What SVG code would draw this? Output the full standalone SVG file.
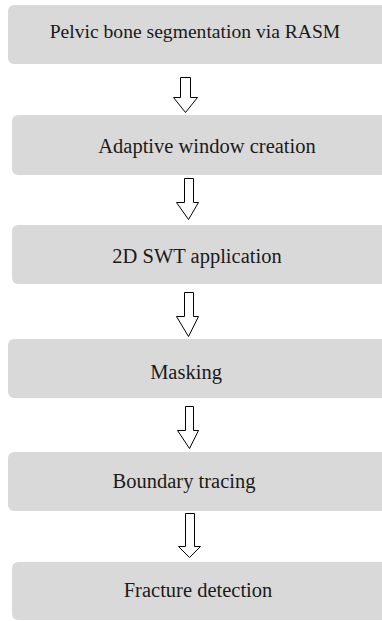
<svg xmlns="http://www.w3.org/2000/svg" width="382" height="621" viewBox="0 0 382 621">
<style>
.box{fill:#d9d9d9;}
.lbl{font-family:"Liberation Serif","Times New Roman",serif;font-size:20.5px;fill:#1a1a1a;text-anchor:middle;}
.arr{fill:#fff;stroke:#000;stroke-width:1;stroke-linejoin:miter;}
</style>
<rect width="382" height="621" fill="#fff"/>
<g id="n1"><rect class="box" x="8" y="5" width="400" height="59" rx="6"/><text class="lbl" x="195" y="38" style="font-size:19.6px">Pelvic bone segmentation via RASM</text></g>
<g id="n2"><rect class="box" x="12" y="115" width="400" height="60" rx="6"/><text class="lbl" x="207" y="153">Adaptive window creation</text></g>
<g id="n3"><rect class="box" x="12" y="225" width="400" height="59" rx="6"/><text class="lbl" x="197" y="263">2D SWT application</text></g>
<g id="n4"><rect class="box" x="8" y="339" width="400" height="59" rx="6"/><text class="lbl" x="186" y="379">Masking</text></g>
<g id="n5"><rect class="box" x="8" y="452" width="400" height="59" rx="6"/><text class="lbl" x="184" y="488">Boundary tracing</text></g>
<g id="n6"><rect class="box" x="12" y="562" width="400" height="58" rx="6"/><text class="lbl" x="198" y="597">Fracture detection</text></g>
<g id="connectors">
<path class="arr" d="M180.5,77.5 H190.5 V97.5 H197.5 L185.5,112.5 L173.5,97.5 H180.5 Z"/>
<path class="arr" d="M184.5,178.5 H193.5 V202.5 H198.5 L188.5,219.5 L176.5,202.5 H184.5 Z"/>
<path class="arr" d="M184.5,292.5 H193.5 V316.5 H198.5 L188.5,336.5 L176.5,316.5 H184.5 Z"/>
<path class="arr" d="M185.5,406.5 H193.5 V430.5 H198.5 L189.5,448.5 L177.5,430.5 H185.5 Z"/>
<path class="arr" d="M185.5,513.5 H194.5 V546.5 H200.5 L189.5,557.5 L178.5,546.5 H185.5 Z"/>
</g>
</svg>
